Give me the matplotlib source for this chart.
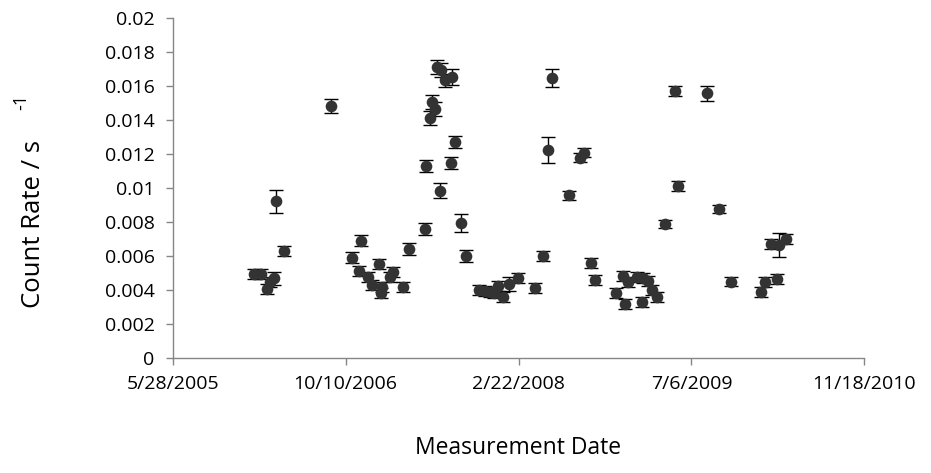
import datetime as dt
import matplotlib
matplotlib.use("Agg")
import matplotlib.pyplot as plt

# Measurement dates, count rates (s^-1) and their uncertainties
dates = [
    "2006-01-18", "2006-02-07", "2006-02-24", "2006-03-05", "2006-03-17", "2006-03-23",
    "2006-04-16", "2006-08-30", "2006-10-29", "2006-11-17", "2006-11-23", "2006-12-13",
    "2006-12-25", "2007-01-15", "2007-01-21", "2007-01-24", "2007-02-15", "2007-02-24",
    "2007-03-24", "2007-04-12", "2007-05-28", "2007-05-31", "2007-06-11", "2007-06-16",
    "2007-06-25", "2007-06-30", "2007-07-10", "2007-07-12", "2007-07-24", "2007-08-10",
    "2007-08-13", "2007-08-22", "2007-09-10", "2007-09-23", "2007-11-01", "2007-11-17",
    "2007-12-02", "2007-12-13", "2007-12-26", "2008-01-09", "2008-01-25", "2008-02-21",
    "2008-04-10", "2008-05-04", "2008-05-16", "2008-05-30", "2008-07-16", "2008-08-18",
    "2008-08-29", "2008-09-18", "2008-10-01", "2008-11-29", "2008-12-21", "2008-12-27",
    "2009-01-04", "2009-01-31", "2009-02-13", "2009-02-17", "2009-03-03", "2009-03-13",
    "2009-03-28", "2009-04-20", "2009-05-20", "2009-05-29", "2009-08-19", "2009-09-23",
    "2009-10-28", "2010-01-22", "2010-02-04", "2010-02-20", "2010-03-10", "2010-03-16",
    "2010-04-06",
]
count_rate = [
    0.00495, 0.00495, 0.00405, 0.00448, 0.00468, 0.00920,
    0.00630, 0.01480, 0.00590, 0.00510, 0.00690, 0.00478,
    0.00427, 0.00550, 0.00384, 0.00415, 0.00478, 0.00505,
    0.00417, 0.00642, 0.00758, 0.01130, 0.01410, 0.01504,
    0.01464, 0.01710, 0.00983, 0.01690, 0.01630, 0.01147,
    0.01650, 0.01270, 0.00793, 0.00600, 0.00400, 0.00394,
    0.00390, 0.00380, 0.00423, 0.00360, 0.00435, 0.00472,
    0.00413, 0.00600, 0.01222, 0.01643, 0.00956, 0.01177,
    0.01206, 0.00560, 0.00456, 0.00380, 0.00483, 0.00317,
    0.00448, 0.00474, 0.00331, 0.00468, 0.00454, 0.00400,
    0.00357, 0.00787, 0.01570, 0.01012, 0.01555, 0.00875,
    0.00448, 0.00390, 0.00448, 0.00668, 0.00464, 0.00664,
    0.00697,
]
rate_err = [
    0.00030, 0.00030, 0.00030, 0.00030, 0.00040, 0.00067,
    0.00030, 0.00040, 0.00030, 0.00030, 0.00030, 0.00030,
    0.00030, 0.00030, 0.00030, 0.00030, 0.00030, 0.00030,
    0.00030, 0.00035, 0.00035, 0.00035, 0.00040, 0.00040,
    0.00040, 0.00040, 0.00044, 0.00040, 0.00040, 0.00036,
    0.00045, 0.00036, 0.00053, 0.00036, 0.00030, 0.00030,
    0.00030, 0.00030, 0.00030, 0.00030, 0.00040, 0.00030,
    0.00030, 0.00030, 0.00077, 0.00054, 0.00025, 0.00025,
    0.00025, 0.00030, 0.00030, 0.00030, 0.00030, 0.00030,
    0.00030, 0.00030, 0.00030, 0.00030, 0.00030, 0.00030,
    0.00030, 0.00025, 0.00030, 0.00030, 0.00044, 0.00025,
    0.00025, 0.00030, 0.00030, 0.00030, 0.00030, 0.00070,
    0.00030,
]

x_ticks = ["2005-05-28", "2006-10-10", "2008-02-22", "2009-07-06", "2010-11-18"]
y_ticks = [0, 0.002, 0.004, 0.006, 0.008, 0.01, 0.012, 0.014, 0.016, 0.018, 0.02]

to_date = lambda s: dt.datetime.strptime(s, "%Y-%m-%d")
x = [to_date(d) for d in dates]
xt = [to_date(d) for d in x_ticks]

plt.rcParams["font.family"] = ["Open Sans", "DejaVu Sans"]

fig = plt.figure(figsize=(9.31, 4.73), dpi=100)
ax = fig.add_axes([0.1855, 0.2431, 0.7429, 0.7199])

ax.errorbar(x, count_rate, yerr=rate_err, fmt="none", ecolor="black",
            elinewidth=1.0, capsize=4.7, capthick=1.0, zorder=2)
ax.plot(x, count_rate, linestyle="none", marker="o", markersize=8.4,
        color="#333333", markeredgewidth=0, zorder=3)

ax.set_xlim(xt[0], xt[-1])
ax.set_ylim(0, 0.02)
ax.set_xticks(xt)
ax.set_xticklabels([f"{d.month}/{d.day}/{d.year}" for d in xt])
ax.set_yticks(y_ticks)
ax.set_yticklabels([f"{v:g}" for v in y_ticks])

for side in ("top", "right"):
    ax.spines[side].set_visible(False)
for side in ("left", "bottom"):
    ax.spines[side].set_color("#868686")
    ax.spines[side].set_linewidth(1.0)

ax.tick_params(axis="both", direction="out", length=5, width=1.0,
               color="#868686", labelsize=14, labelcolor="black")
ax.tick_params(axis="x", pad=7)
ax.tick_params(axis="y", pad=8)

ax.set_xlabel("Measurement Date", fontsize=16.5)
ax.xaxis.set_label_coords(0.5, -0.228)
ax.set_ylabel("Count Rate / s", fontsize=18.5)
ax.yaxis.set_label_coords(-0.183, 0.395)
fig.text(0.0226, 0.785, "-1", rotation=90, fontsize=13, ha="center", va="center")

fig.savefig("out.png", dpi=100)
